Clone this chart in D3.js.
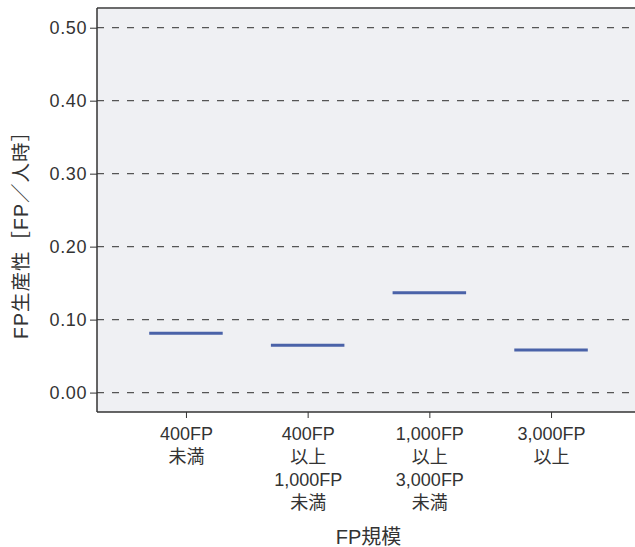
<!DOCTYPE html>
<html><head><meta charset="utf-8">
<script src="https://cdn.jsdelivr.net/npm/d3@7"></script>
<style>
body{margin:0;background:#fff;}
text{font-family:"Liberation Sans","Noto Sans CJK JP",sans-serif;fill:#333;}
</style></head>
<body><svg id="c" width="635" height="547"></svg>
<script>
const categories = [["400FP","未満"],["400FP","以上","1,000FP","未満"],["1,000FP","以上","3,000FP","未満"],["3,000FP","以上"]];
const values = [0.0812, 0.0648, 0.1368, 0.0584];
const yTicks = [0.0, 0.1, 0.2, 0.3, 0.4, 0.5];
const xTitle = "FP規模";
const yTitle = "FP生産性［FP／人時］";

const svg = d3.select("#c");
const L = 97, R = 640, T = 8, B = 412;
const keys = categories.map((c,i)=>"c"+i);
const x = d3.scalePoint().domain(keys).range([L, R]).padding(0.731);
const y = d3.scaleLinear().domain([-0.0266, 0.527]).range([B, T]);

svg.append("rect").attr("x",L).attr("y",T).attr("width",R-L).attr("height",B-T).attr("fill","#eff0f3");

// gridlines
svg.append("g").selectAll("line").data(yTicks).join("line")
  .attr("x1",L).attr("x2",R).attr("y1",d=>y(d)).attr("y2",d=>y(d))
  .attr("stroke","#555").attr("stroke-width",1.2).attr("stroke-dasharray","7,8");

// y axis
const ya = svg.append("g").attr("transform",`translate(${L},0)`)
  .call(d3.axisLeft(y).tickValues(yTicks).tickFormat(d3.format(".2f")).tickSize(7).tickPadding(3));
ya.attr("font-family",null).attr("font-size",null);
ya.select(".domain").remove();
ya.selectAll(".tick line").attr("stroke","#333");
ya.selectAll(".tick text").attr("font-size",18).attr("fill","#3a3a3a").attr("letter-spacing",0.6);

// x axis
const xa = svg.append("g").attr("transform",`translate(0,${B})`)
  .call(d3.axisBottom(x).tickSize(6).tickFormat(""));
xa.attr("font-family",null).attr("font-size",null);
xa.select(".domain").remove();
xa.selectAll(".tick line").attr("stroke","#333");
xa.selectAll(".tick").each(function(d,i){
  const t = d3.select(this).append("text").attr("text-anchor","middle").attr("font-size",18).attr("fill","#333");
  categories[i].forEach((s,j)=>{
    t.append("tspan").attr("x",0).attr("y",27.5+j*23.3).text(s);
  });
});

// borders
svg.append("line").attr("x1",L).attr("x2",R).attr("y1",T).attr("y2",T).attr("stroke","#6b6b6b").attr("stroke-width",2);
svg.append("line").attr("x1",L).attr("x2",L).attr("y1",T).attr("y2",B).attr("stroke","#333").attr("stroke-width",1.5);
svg.append("line").attr("x1",L).attr("x2",R).attr("y1",B).attr("y2",B).attr("stroke","#333").attr("stroke-width",1.5);

// segments
const hw = x.step()*0.302;
svg.append("g").selectAll("line").data(values).join("line")
  .attr("x1",(d,i)=>x(keys[i])-hw).attr("x2",(d,i)=>x(keys[i])+hw)
  .attr("y1",d=>y(d)).attr("y2",d=>y(d))
  .attr("stroke","#4a62a8").attr("stroke-width",3);

svg.append("text").attr("x",(L+R)/2).attr("y",544).attr("text-anchor","middle").attr("font-size",20).text(xTitle);
svg.append("text").attr("transform","translate(28,230) rotate(-90)").attr("text-anchor","middle").attr("font-size",19.5).attr("letter-spacing",1).text(yTitle);
</script></body></html>
